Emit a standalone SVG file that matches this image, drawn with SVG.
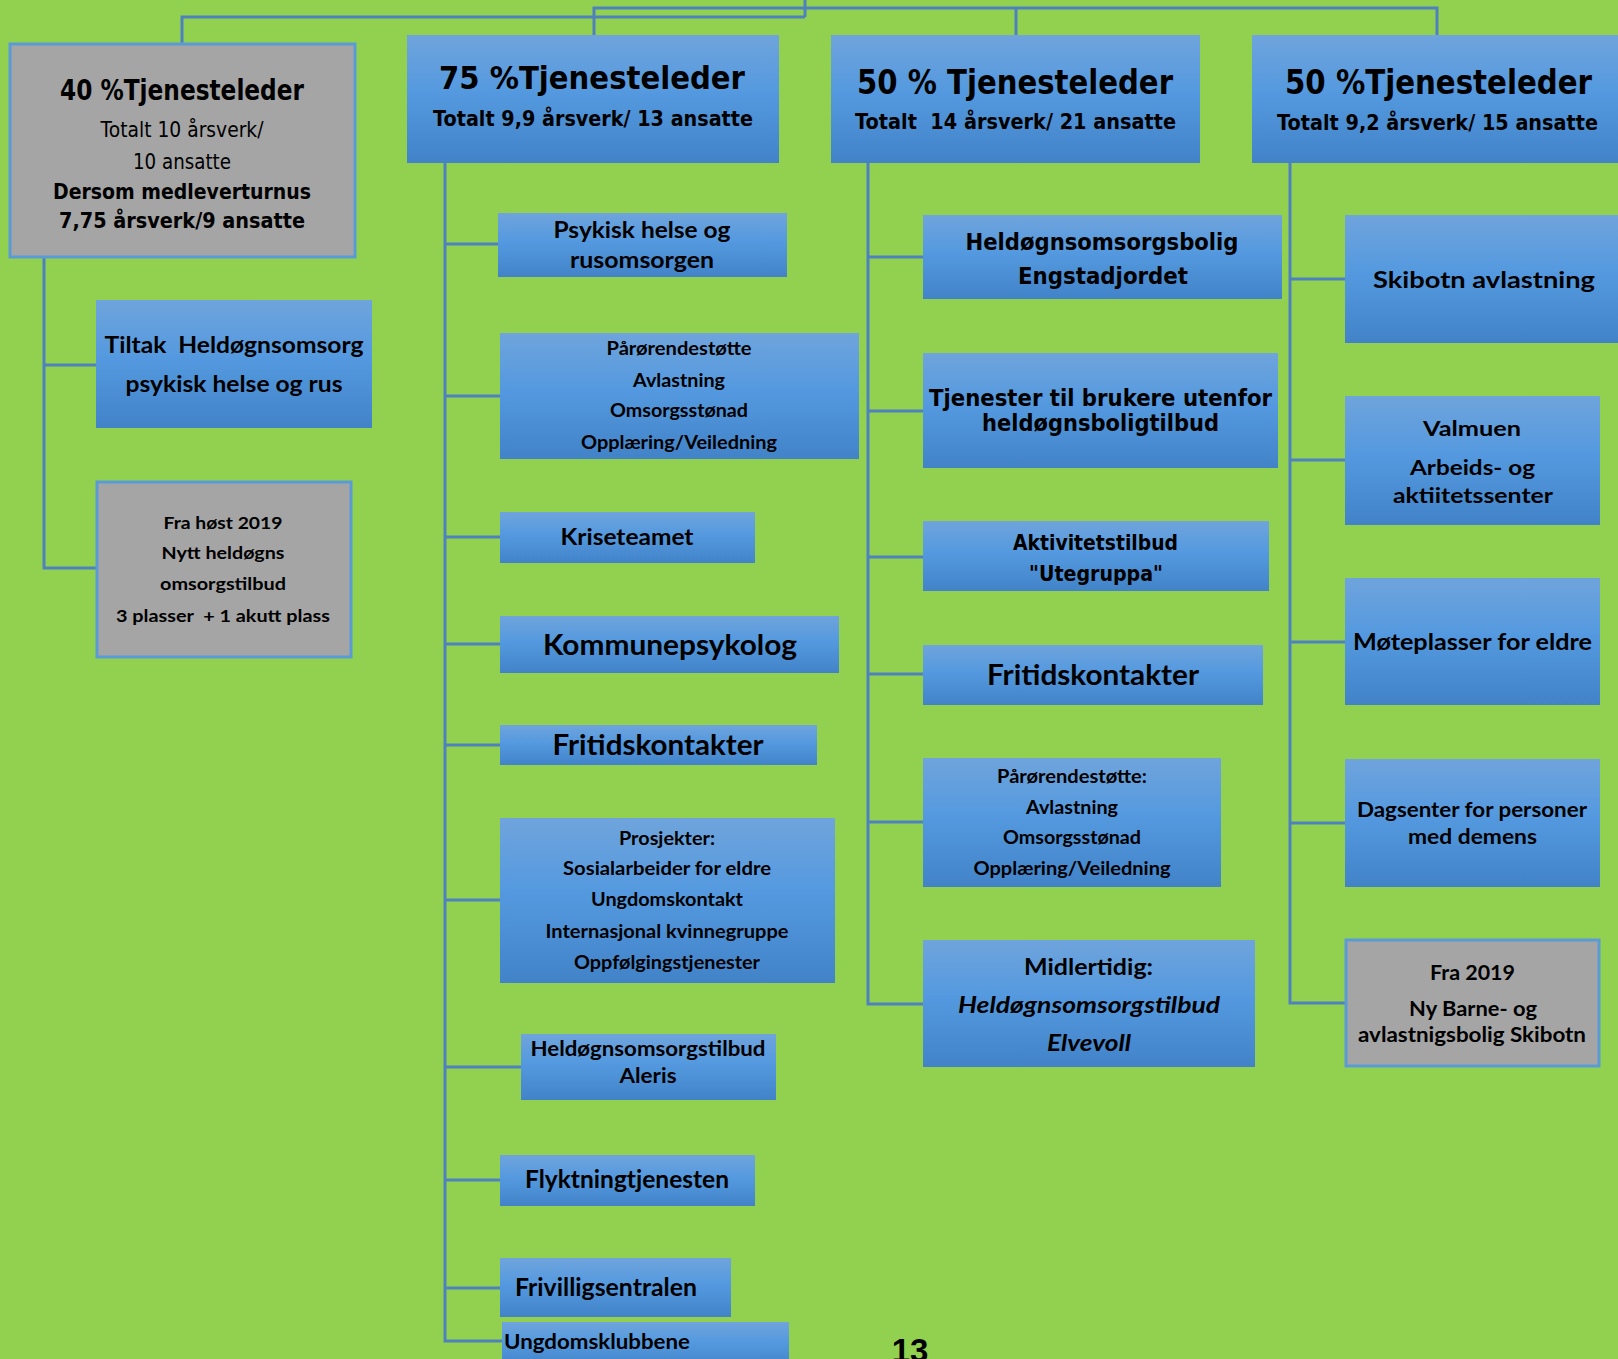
<svg xmlns="http://www.w3.org/2000/svg" width="1618" height="1359" viewBox="0 0 1618 1359">
<defs>
<linearGradient id="blue" x1="0" y1="0" x2="0" y2="1">
<stop offset="0" stop-color="#6FA4DC"/>
<stop offset="0.45" stop-color="#5499DF"/>
<stop offset="1" stop-color="#4283C8"/>
</linearGradient>
<style>
.box{fill:url(#blue)}
.gray{fill:#A5A5A5;stroke:#5B9BD5;stroke-width:3}
.conn{fill:none;stroke:#4F81BD;stroke-width:3}
text{fill:#000;text-anchor:middle;white-space:pre}
.th{font-family:"DejaVu Sans",Verdana,sans-serif;font-weight:bold}
.tr{font-family:"DejaVu Sans",Verdana,sans-serif;font-weight:normal}
.c{font-family:Lato,"Open Sans",sans-serif;font-weight:bold}
.ci{font-family:Lato,"Open Sans",sans-serif;font-weight:bold;font-style:italic}
.l{text-anchor:start}
</style>
</defs>
<rect width="1618" height="1359" fill="#92D050"/>

<g id="connectors">
<path class="conn" d="M805,0 V17 M182,44 V17 H805 M594,35 V8 H1437 V35 M1016,8 V35"/>
<path class="conn" d="M44,257 V568 H96 M44,365 H96"/>
<path class="conn" d="M445,163 V1341 H502 M445,244 H498 M445,396 H500 M445,537 H500 M445,644 H500 M445,745 H500 M445,900 H500 M445,1067 H521 M445,1180 H500 M445,1288 H500"/>
<path class="conn" d="M868,163 V1004 H923 M868,257 H923 M868,411 H923 M868,557 H923 M868,674 H923 M868,822 H923"/>
<path class="conn" d="M1290,163 V1003 H1345 M1290,279 H1345 M1290,460 H1345 M1290,642 H1345 M1290,823 H1345"/>
</g>

<g id="leder40">
<rect class="gray" x="10" y="44" width="345" height="213"/>
<text class="th" x="182" y="100" font-size="28" textLength="244" lengthAdjust="spacingAndGlyphs">40 %Tjenesteleder</text>
<text class="tr" x="182" y="137" font-size="22" textLength="163" lengthAdjust="spacingAndGlyphs">Totalt 10 årsverk/</text>
<text class="tr" x="182" y="169" font-size="22" textLength="98" lengthAdjust="spacingAndGlyphs">10 ansatte</text>
<text class="th" x="182" y="199" font-size="21" textLength="258" lengthAdjust="spacingAndGlyphs">Dersom medleverturnus</text>
<text class="th" x="182" y="228" font-size="21" textLength="246" lengthAdjust="spacingAndGlyphs">7,75 årsverk/9 ansatte</text>
</g>

<g id="leder75">
<rect class="box" x="407" y="35" width="372" height="128"/>
<text class="th" x="592" y="89" font-size="32" textLength="306" lengthAdjust="spacingAndGlyphs">75 %Tjenesteleder</text>
<text class="th" x="593" y="126" font-size="22" textLength="320" lengthAdjust="spacingAndGlyphs">Totalt 9,9 årsverk/ 13 ansatte</text>
</g>

<g id="leder50a">
<rect class="box" x="831" y="35" width="369" height="128"/>
<text class="th" x="1015" y="94" font-size="33" textLength="316" lengthAdjust="spacingAndGlyphs">50 % Tjenesteleder</text>
<text class="th" x="1015.5" y="129" font-size="22" textLength="321" lengthAdjust="spacingAndGlyphs" xml:space="preserve">Totalt  14 årsverk/ 21 ansatte</text>
</g>

<g id="leder50b">
<rect class="box" x="1252" y="35" width="366" height="128"/>
<text class="th" x="1438.5" y="94" font-size="33" textLength="307" lengthAdjust="spacingAndGlyphs">50 %Tjenesteleder</text>
<text class="th" x="1437.5" y="130" font-size="22" textLength="321" lengthAdjust="spacingAndGlyphs">Totalt 9,2 årsverk/ 15 ansatte</text>
</g>

<g id="tiltak">
<rect class="box" x="96" y="300" width="276" height="128"/>
<text class="c" x="234" y="353" font-size="23.5" textLength="259" lengthAdjust="spacingAndGlyphs" xml:space="preserve">Tiltak  Heldøgnsomsorg</text>
<text class="c" x="234" y="392" font-size="23.5" textLength="217" lengthAdjust="spacingAndGlyphs">psykisk helse og rus</text>
</g>

<g id="nytt-heldogn">
<rect class="gray" x="97" y="482" width="254" height="175"/>
<text class="c" x="223" y="529" font-size="17.5" textLength="119" lengthAdjust="spacingAndGlyphs">Fra høst 2019</text>
<text class="c" x="223" y="559" font-size="17.5" textLength="123" lengthAdjust="spacingAndGlyphs">Nytt heldøgns</text>
<text class="c" x="223" y="590" font-size="17.5" textLength="126" lengthAdjust="spacingAndGlyphs">omsorgstilbud</text>
<text class="c" x="223" y="622" font-size="17.5" textLength="214" lengthAdjust="spacingAndGlyphs" xml:space="preserve">3 plasser  + 1 akutt plass</text>
</g>

<g id="psykisk">
<rect class="box" x="498" y="213" width="289" height="64"/>
<text class="c" x="642" y="238" font-size="23" textLength="177" lengthAdjust="spacingAndGlyphs">Psykisk helse og</text>
<text class="c" x="642" y="268" font-size="23" textLength="144" lengthAdjust="spacingAndGlyphs">rusomsorgen</text>
</g>

<g id="parorende1">
<rect class="box" x="500" y="333" width="359" height="126"/>
<text class="c" x="679" y="355" font-size="18.5" textLength="145" lengthAdjust="spacingAndGlyphs">Pårørendestøtte</text>
<text class="c" x="679" y="387" font-size="18.5" textLength="92" lengthAdjust="spacingAndGlyphs">Avlastning</text>
<text class="c" x="679" y="417" font-size="18.5" textLength="138" lengthAdjust="spacingAndGlyphs">Omsorgsstønad</text>
<text class="c" x="679" y="449" font-size="18.5" textLength="196" lengthAdjust="spacingAndGlyphs">Opplæring/Veiledning</text>
</g>

<g id="kriseteamet">
<rect class="box" x="500" y="512" width="255" height="51"/>
<text class="c" x="627" y="545" font-size="23.5" textLength="133" lengthAdjust="spacingAndGlyphs">Kriseteamet</text>
</g>

<g id="kommunepsykolog">
<rect class="box" x="500" y="616" width="339" height="57"/>
<text class="c" x="670" y="655" font-size="28.5" textLength="254" lengthAdjust="spacingAndGlyphs">Kommunepsykolog</text>
</g>

<g id="fritid1">
<rect class="box" x="500" y="725" width="317" height="40"/>
<text class="c" x="658" y="755" font-size="28" textLength="211" lengthAdjust="spacingAndGlyphs">Fritidskontakter</text>
</g>

<g id="prosjekter">
<rect class="box" x="500" y="818" width="335" height="165"/>
<text class="c" x="667" y="845" font-size="18.5" textLength="96" lengthAdjust="spacingAndGlyphs">Prosjekter:</text>
<text class="c" x="667" y="875" font-size="18.5" textLength="208" lengthAdjust="spacingAndGlyphs">Sosialarbeider for eldre</text>
<text class="c" x="667" y="906" font-size="18.5" textLength="152" lengthAdjust="spacingAndGlyphs">Ungdomskontakt</text>
<text class="c" x="667" y="938" font-size="18.5" textLength="243" lengthAdjust="spacingAndGlyphs">Internasjonal kvinnegruppe</text>
<text class="c" x="667" y="969" font-size="18.5" textLength="186" lengthAdjust="spacingAndGlyphs">Oppfølgingstjenester</text>
</g>

<g id="aleris">
<rect class="box" x="521" y="1034" width="255" height="66"/>
<text class="c" x="648" y="1056" font-size="21.5" textLength="235" lengthAdjust="spacingAndGlyphs">Heldøgnsomsorgstilbud</text>
<text class="c" x="648" y="1083" font-size="21.5" textLength="57" lengthAdjust="spacingAndGlyphs">Aleris</text>
</g>

<g id="flyktning">
<rect class="box" x="500" y="1155" width="255" height="51"/>
<text class="c" x="627" y="1188" font-size="24" textLength="204" lengthAdjust="spacingAndGlyphs">Flyktningtjenesten</text>
</g>

<g id="frivillig">
<rect class="box" x="500" y="1258" width="231" height="59"/>
<text class="c l" x="515" y="1296" font-size="24" textLength="182" lengthAdjust="spacingAndGlyphs">Frivilligsentralen</text>
</g>

<g id="ungdomsklubbene">
<rect class="box" x="502" y="1322" width="287" height="45"/>
<text class="c l" x="504" y="1348.5" font-size="21" textLength="186" lengthAdjust="spacingAndGlyphs">Ungdomsklubbene</text>
</g>

<g id="engstadjordet">
<rect class="box" x="923" y="215" width="359" height="84"/>
<text class="th" x="1102" y="250" font-size="23" textLength="273" lengthAdjust="spacingAndGlyphs">Heldøgnsomsorgsbolig</text>
<text class="th" x="1103" y="284" font-size="23" textLength="170" lengthAdjust="spacingAndGlyphs">Engstadjordet</text>
</g>

<g id="tjenester-utenfor">
<rect class="box" x="923" y="353" width="355" height="115"/>
<text class="th" x="1100.5" y="406" font-size="23.5" textLength="343" lengthAdjust="spacingAndGlyphs">Tjenester til brukere utenfor</text>
<text class="th" x="1100.5" y="431" font-size="23.5" textLength="237" lengthAdjust="spacingAndGlyphs">heldøgnsboligtilbud</text>
</g>

<g id="utegruppa">
<rect class="box" x="923" y="521" width="346" height="70"/>
<text class="th" x="1095.5" y="550" font-size="22" textLength="165" lengthAdjust="spacingAndGlyphs">Aktivitetstilbud</text>
<text class="th" x="1096" y="581" font-size="22" textLength="134" lengthAdjust="spacingAndGlyphs">"Utegruppa"</text>
</g>

<g id="fritid2">
<rect class="box" x="923" y="645" width="340" height="60"/>
<text class="c" x="1093" y="685" font-size="28" textLength="212" lengthAdjust="spacingAndGlyphs">Fritidskontakter</text>
</g>

<g id="parorende2">
<rect class="box" x="923" y="758" width="298" height="129"/>
<text class="c" x="1072" y="783" font-size="18.5" textLength="150" lengthAdjust="spacingAndGlyphs">Pårørendestøtte:</text>
<text class="c" x="1072" y="814" font-size="18.5" textLength="92" lengthAdjust="spacingAndGlyphs">Avlastning</text>
<text class="c" x="1072" y="844" font-size="18.5" textLength="138" lengthAdjust="spacingAndGlyphs">Omsorgsstønad</text>
<text class="c" x="1072" y="875" font-size="18.5" textLength="197" lengthAdjust="spacingAndGlyphs">Opplæring/Veiledning</text>
</g>

<g id="elvevoll">
<rect class="box" x="923" y="940" width="332" height="127"/>
<text class="c" x="1088.5" y="975" font-size="23" textLength="129" lengthAdjust="spacingAndGlyphs">Midlertidig:</text>
<text class="ci" x="1089" y="1013" font-size="23" textLength="262" lengthAdjust="spacingAndGlyphs">Heldøgnsomsorgstilbud</text>
<text class="ci" x="1089" y="1051" font-size="23" textLength="84" lengthAdjust="spacingAndGlyphs">Elvevoll</text>
</g>

<g id="skibotn">
<rect class="box" x="1345" y="215" width="273" height="128"/>
<text class="c" x="1484" y="288" font-size="23.5" textLength="222" lengthAdjust="spacingAndGlyphs">Skibotn avlastning</text>
</g>

<g id="valmuen">
<rect class="box" x="1345" y="396" width="255" height="129"/>
<text class="c" x="1472" y="436" font-size="21.5" textLength="98" lengthAdjust="spacingAndGlyphs">Valmuen</text>
<text class="c" x="1472.5" y="475" font-size="21.5" textLength="125" lengthAdjust="spacingAndGlyphs">Arbeids- og</text>
<text class="c" x="1473" y="503" font-size="21.5" textLength="160" lengthAdjust="spacingAndGlyphs">aktiitetssenter</text>
</g>

<g id="moteplasser">
<rect class="box" x="1345" y="578" width="255" height="127"/>
<text class="c" x="1472.5" y="650" font-size="23.5" textLength="239" lengthAdjust="spacingAndGlyphs">Møteplasser for eldre</text>
</g>

<g id="dagsenter">
<rect class="box" x="1345" y="759" width="255" height="128"/>
<text class="c" x="1472" y="817" font-size="20.5" textLength="230" lengthAdjust="spacingAndGlyphs">Dagsenter for personer</text>
<text class="c" x="1472.5" y="844" font-size="20.5" textLength="129" lengthAdjust="spacingAndGlyphs">med demens</text>
</g>

<g id="barnebolig">
<rect class="gray" x="1346" y="940" width="253" height="126"/>
<text class="c" x="1472.5" y="980" font-size="20.5" textLength="85" lengthAdjust="spacingAndGlyphs">Fra 2019</text>
<text class="c" x="1473" y="1016" font-size="20.5" textLength="128" lengthAdjust="spacingAndGlyphs">Ny Barne- og</text>
<text class="c" x="1472" y="1042" font-size="20.5" textLength="228" lengthAdjust="spacingAndGlyphs">avlastnigsbolig Skibotn</text>
</g>

<text x="910" y="1362" font-family="Liberation Sans, Arial, sans-serif" font-weight="bold" font-size="33">13</text>
</svg>
